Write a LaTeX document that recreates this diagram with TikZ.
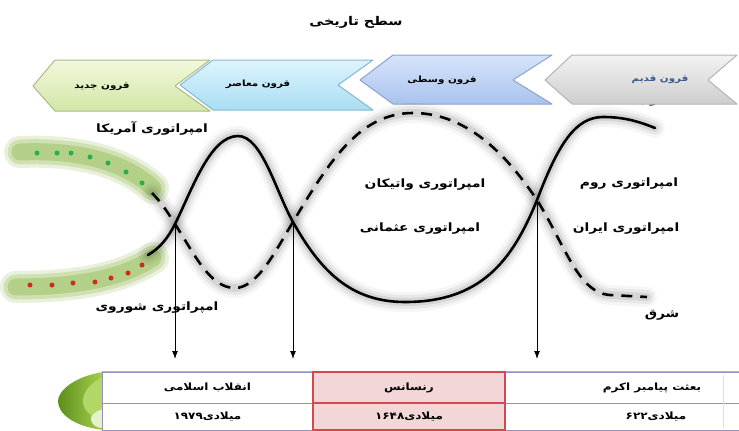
\documentclass[tikz,border=0pt]{standalone}
\usepackage{fontspec}
\usetikzlibrary{arrows.meta,calc}
\TeXXeTstate=1
\newfontfamily\ar[Script=Arabic, FakeStretch=1.2]{DejaVu Sans}
\definecolor{grnT}{HTML}{F2F8DC}
\definecolor{grnB}{HTML}{D2E6A6}
\definecolor{grnE}{HTML}{A9BC8A}
\definecolor{cyaT}{HTML}{DDF4FD}
\definecolor{cyaB}{HTML}{A9DDF3}
\definecolor{cyaE}{HTML}{86B9CC}
\definecolor{lavT}{HTML}{D6E4FA}
\definecolor{lavB}{HTML}{A9C3EE}
\definecolor{lavE}{HTML}{8DA3CC}
\definecolor{gryT}{HTML}{F3F3F3}
\definecolor{gryB}{HTML}{CDCDCD}
\definecolor{gryE}{HTML}{B5B5B5}
\definecolor{oldtxt}{HTML}{3D5A8A}
\definecolor{band}{HTML}{93BC55}
\definecolor{dotg}{HTML}{25B04C}
\definecolor{dotr}{HTML}{C2321E}
\definecolor{rowline}{HTML}{968FC2}
\definecolor{topline}{HTML}{AFC08A}
\definecolor{pinkf}{HTML}{F2D6D8}
\definecolor{pinkd}{HTML}{D04A4E}
\definecolor{crD}{HTML}{5E8E1C}
\definecolor{crM}{HTML}{A6D04E}
\definecolor{crL}{HTML}{E4F2CC}
\tikzset{
  lbl/.style={font=\ar\bfseries\fontsize{11.5}{13}\selectfont, inner sep=0pt},
  chevtxt/.style={font=\ar\bfseries\fontsize{8.6}{10}\selectfont, inner sep=0pt},
  celltxt/.style={font=\ar\bfseries\fontsize{10}{12}\selectfont},
  cellw/.style={draw=rowline, line width=0.8pt, fill=white, inner sep=0pt},
  cellp/.style={draw=pinkd, line width=1.6pt, fill=pinkf, inner sep=0pt, celltxt},
  glow/.style={preaction={draw=black, solid, line width=20pt, opacity=.035, line cap=round},
               preaction={draw=black, solid, line width=14pt, opacity=.055, line cap=round},
               preaction={draw=black, solid, line width=8pt, opacity=.08, line cap=round}},
  solidc/.style={draw=black, line width=2.6pt},
  dashc/.style={draw=black, line width=2.6pt, dash pattern=on 11pt off 8pt},
  bandst/.style={draw=band, line cap=round,
               preaction={draw=band, line width=32pt, opacity=.2, line cap=round},
               preaction={draw=band, line width=25pt, opacity=.3, line cap=round},
               line width=17pt, opacity=.45},
  gdot/.style={fill=dotg, circle, inner sep=0pt, minimum size=5pt},
  rdot/.style={fill=dotr, circle, inner sep=0pt, minimum size=5pt},
  arr/.style={draw=black, line width=1pt, -{Latex[length=8pt,width=6pt]}},
}
\begin{document}
\begin{tikzpicture}[x=1pt,y=-1pt]
\useasboundingbox[fill=white] (0,0) rectangle (739,431);

% title
\node[font=\ar\bfseries\fontsize{12}{14}\selectfont, inner sep=0pt] (title) at (356,22) {\beginR سطح تاریخی\endR};

% hidden label under grey chevron
\node[lbl, text=black!70] (west) at (652,101) {غرب};

% chevrons
\shade[top color=grnT, bottom color=grnB, draw=grnE, line width=1pt, line join=round]
  (33,86) -- (55,60) -- (210,60) -- (175,86) -- (210,111) -- (55,111) -- cycle;
\shade[top color=cyaT, bottom color=cyaB, draw=cyaE, line width=1pt, line join=round]
  (180,85) -- (213,60) -- (373,60) -- (338,85) -- (373,110) -- (213,110) -- cycle;
\shade[top color=lavT, bottom color=lavB, draw=lavE, line width=1pt, line join=round]
  (360,80) -- (393,55) -- (552,55) -- (513,80) -- (552,104) -- (393,104) -- cycle;
\shade[top color=gryT, bottom color=gryB, draw=gryE, line width=1pt, line join=round]
  (545,80) -- (572,55) -- (737,55) -- (708,80) -- (737,104) -- (572,104) -- cycle;
\node[chevtxt] (cjadid) at (102,87) {\beginR قرون جدید\endR};
\node[chevtxt] (cmoaser) at (258,84) {\beginR قرون معاصر\endR};
\node[chevtxt] (cvosta) at (442,80) {\beginR قرون وسطی\endR};
\node[chevtxt, text=oldtxt] (cghadim) at (660,80) {\beginR قرون قدیم\endR};

% green bands with dots
\draw[bandst] (20,152) .. controls (70,150) and (120,158) .. (153,188);
\draw[bandst] (16,287) .. controls (70,287) and (120,280) .. (153,258);
\foreach \p [count=\i] in {(37,153),(57,153),(71,153),(90,157),(108,163),(126,172),(142,183)}
  \node[gdot] (g\i) at \p {};
\foreach \p [count=\i] in {(30,285),(52,285),(73,283),(95,282),(111,278),(128,273),(142,265)}
  \node[rdot] (r\i) at \p {};

% curves
\draw[glow, solidc, line cap=round]
  (148,255) .. controls (160,248) and (168,238) .. (175,224)
  .. controls (192,190) and (210,136) .. (238,136)
  .. controls (262,136) and (276,192) .. (293,222)
  .. controls (320,270) and (350,302) .. (405,302)
  .. controls (480,302) and (512,262) .. (537,200)
  .. controls (558,145) and (575,117) .. (603,117)
  .. controls (625,117) and (640,122) .. (655,128);
\draw[glow, dashc]
  (152,193) .. controls (162,203) and (168,213) .. (175,224)
  .. controls (195,255) and (210,288) .. (235,288)
  .. controls (258,288) and (277,248) .. (293,222)
  .. controls (330,160) and (360,113) .. (413,113)
  .. controls (470,113) and (510,160) .. (537,200)
  .. controls (565,245) and (578,293) .. (610,295)
  -- (647,297);

% labels
\node[lbl] (amrika) at (152,128) {\beginR امپراتوری آمریکا\endR};
\node[lbl] (shoravi) at (157,308) {\beginR امپراتوری شوروی\endR};
\node[lbl] (vatikan) at (425,185) {\beginR امپراتوری واتیکان\endR};
\node[lbl] (osmani) at (420,229) {\beginR امپراتوری عثمانی\endR};
\node[lbl] (rom) at (629,184) {\beginR امپراتوری روم\endR};
\node[lbl] (iran) at (626,229) {\beginR امپراتوری ایران\endR};
\node[lbl] (shargh) at (662,315) {شرق};

% crossing points and arrows
\coordinate (x1) at (175,224);
\coordinate (x2) at (293,222);
\coordinate (x3) at (537,200);
\coordinate (abase) at (0,359);
\draw[arr] (x1) -- (x1 |- abase);
\draw[arr] (x2) -- (x2 |- abase);
\draw[arr] (x3) -- (x3 |- abase);

% table end cap
\shade[left color=crD, right color=crM]
  (103,372) .. controls (72,377) and (58,392) .. (58,401) .. controls (58,413) and (72,426) .. (103,430) -- cycle;
\fill[crM!80!crL]
  (103,377) .. controls (90,383) and (83,392) .. (83,401) .. controls (83,409) and (88,415) .. (103,421) -- cycle;
\fill[crL]
  (103,409) .. controls (94,412) and (90,416) .. (91,420) .. controls (92,425) and (97,428) .. (103,428) -- cycle;

% table cells
\node[cellw, minimum width=211pt, minimum height=31pt] (t11) at (207.5,387.5) {};
\node[cellw, minimum width=211pt, minimum height=27pt] (t21) at (207.5,416.5) {};
\node[cellw, minimum width=300pt, minimum height=31pt] (t13) at (655,387.5) {};
\node[cellw, minimum width=300pt, minimum height=27pt] (t23) at (655,416.5) {};
\draw[topline, line width=1pt] (t11.north west) -- (t11.north east);
\draw[topline, line width=1pt] (t13.north west) -- (t13.north east);
\draw[black!12, line width=1pt] (723,375) -- (723,428);
\node[cellp, minimum width=192pt, minimum height=31pt] (t12) at (409,387.5) {رنسانس};
\node[cellp, minimum width=192pt, minimum height=27pt] (t22) at (409,416.5) {۱۶۴۸\beginR میلادی\endR};
\node[celltxt] (l11) at (t11) {\beginR انقلاب اسلامی\endR};
\node[celltxt] (l21) at (t21) {۱۹۷۹\beginR میلادی\endR};
\node[celltxt] (l13) at (652,387.5) {\beginR بعثت پیامبر اکرم\endR};
\node[celltxt] (l23) at (656,416.5) {۶۲۲\beginR میلادی\endR};
\end{tikzpicture}
\end{document}
